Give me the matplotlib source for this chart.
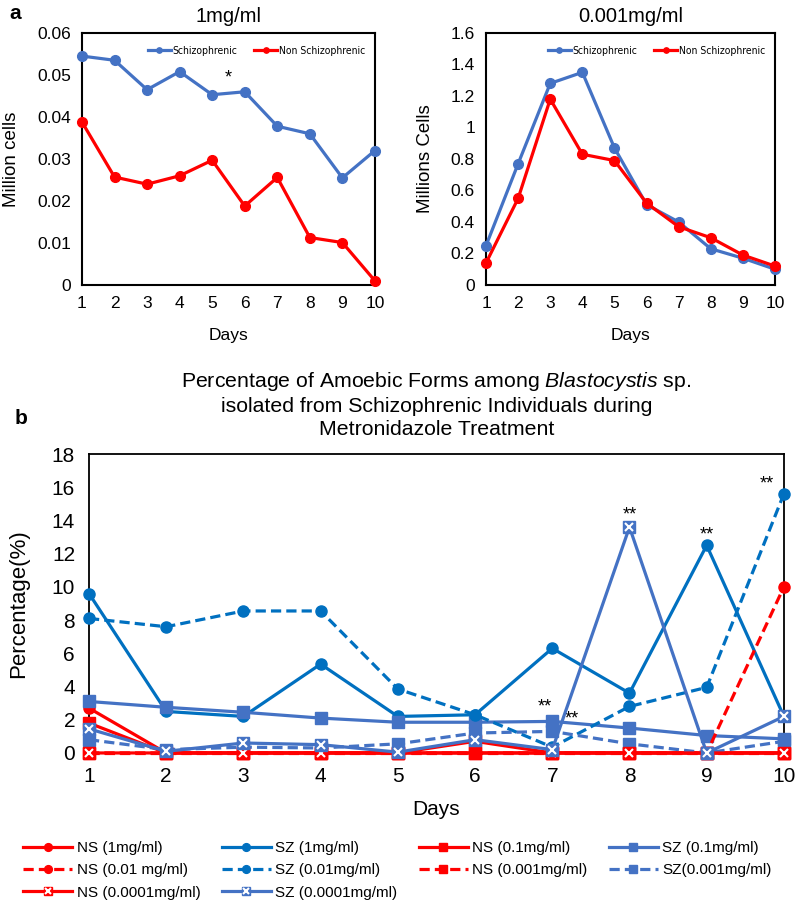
import matplotlib
matplotlib.use("Agg")
import matplotlib.pyplot as plt
from matplotlib.ticker import FuncFormatter
from matplotlib.legend_handler import HandlerTuple
from matplotlib.font_manager import FontProperties

plt.rcParams['font.family'] = ['Liberation Sans', 'DejaVu Sans']
plt.rcParams['mathtext.fontset'] = 'custom'
plt.rcParams['mathtext.rm'] = 'Liberation Sans'
plt.rcParams['mathtext.it'] = 'Liberation Sans:italic'

# ---------------- dados ----------------
dias = [1, 2, 3, 4, 5, 6, 7, 8, 9, 10]

# painel a - 1mg/ml
sz_1mg = [0.0545, 0.0535, 0.0465, 0.0508, 0.0453, 0.0460, 0.0378, 0.0360, 0.0255, 0.0320]
ns_1mg = [0.0388, 0.0257, 0.0240, 0.0260, 0.0297, 0.0188, 0.0256, 0.0113, 0.0101, 0.0010]

# painel a - 0.001mg/ml
sz_0001 = [0.25, 0.77, 1.28, 1.35, 0.87, 0.51, 0.40, 0.23, 0.17, 0.10]
ns_0001 = [0.14, 0.55, 1.18, 0.83, 0.79, 0.52, 0.37, 0.30, 0.19, 0.12]

# painel b - percentagem de formas amebóides
b_ns_1 = [2.7, 0, 0, 0, 0, 0, 0, 0, 0, 0]
b_sz_1 = [9.6, 2.5, 2.2, 5.35, 2.2, 2.3, 6.3, 3.6, 12.5, 2.2]
b_ns_01 = [1.8, 0, 0, 0, 0, 0, 0, 0, 0, 0]
b_sz_01 = [3.1, 2.75, 2.45, 2.1, 1.85, 1.85, 1.9, 1.5, 1.05, 0.85]
b_ns_001 = [0, 0, 0, 0, 0, 0, 0, 0, 0, 10.0]
b_sz_001 = [8.1, 7.6, 8.55, 8.55, 3.85, 2.3, 0.35, 2.8, 3.95, 15.6]
b_ns_0001 = [0, 0, 0, 0, 0, 0, 0, 0, 0, 0]
b_sz_0001 = [0.8, 0.2, 0.35, 0.3, 0.55, 1.2, 1.3, 0.55, 0.0, 0.7]
b_ns_00001 = [0, 0, 0, 0, 0, 0.7, 0, 0, 0, 0]
b_sz_00001 = [1.45, 0.1, 0.6, 0.5, 0.05, 0.8, 0.2, 13.6, 0.0, 2.2]

# asteriscos (dia, valor)
asteriscos_b = [(6.9, 2.75), (7.25, 2.05), (8.0, 14.3), (9.0, 13.1), (9.78, 16.2)]

AZUL = '#4472C4'
AZUL_ESC = '#0070C0'
VERMELHO = '#FF0000'

fig = plt.figure(figsize=(7.96, 9.01), dpi=100)

fmt = FuncFormatter(lambda v, p: '%g' % round(v, 4))
fonte_leg = FontProperties(family='DejaVu Sans', stretch='condensed', size=7.5)


#=(PAINEL A)
def painel_a(pos, sz, ns, titulo, ylabel, ymax, passo):
    ax = fig.add_axes(pos)
    ax.plot(dias, sz, color=AZUL, lw=2.3, marker='o', ms=7, clip_on=False, zorder=3, label='Schizophrenic')
    ax.plot(dias, ns, color=VERMELHO, lw=2.3, marker='o', ms=7, clip_on=False, zorder=3, label='Non Schizophrenic')
    ax.set_xlim(1, 10)
    ax.set_ylim(0, ymax)
    ax.set_xticks(dias)
    yt = [i * passo for i in range(int(round(ymax / passo)) + 1)]
    ax.set_yticks(yt)
    ax.yaxis.set_major_formatter(fmt)
    ax.tick_params(length=0, labelsize=12.5, pad=8)
    for s in ax.spines.values():
        s.set_linewidth(1.5)
    ax.set_title(titulo, fontsize=14.5, pad=8)
    ax.set_xlabel('Days', fontsize=12.5, labelpad=12)
    ax.set_ylabel(ylabel, fontsize=13.5, labelpad=12)
    ax.legend(loc='upper right', bbox_to_anchor=(1.0, 0.985), ncol=2, frameon=False,
              markerscale=0.55, handlelength=2.2, columnspacing=1.6, handletextpad=0.2,
              prop=fonte_leg)
    return ax


ax1 = painel_a([0.103, 0.6837, 0.368, 0.2797], sz_1mg, ns_1mg, '1mg/ml', 'Million cells', 0.06, 0.01)
ax1.text(5.5, 0.0493, '*', ha='center', va='center', fontsize=13)
ax2 = painel_a([0.6106, 0.6837, 0.363, 0.2797], sz_0001, ns_0001, '0.001mg/ml', 'Millions Cells', 1.6, 0.2)

fig.text(0.012, 0.985, 'a', fontsize=15, fontweight='bold', va='center')
fig.text(0.018, 0.535, 'b', fontsize=15, fontweight='bold', va='center')

#=(PAINEL B)
ax = fig.add_axes([0.1118, 0.1643, 0.873, 0.3318])

tr = (3.2, 1.6)
series = [
    (b_ns_1, VERMELHO, '-', 'o', 'NS (1mg/ml)'),
    (b_sz_1, AZUL_ESC, '-', 'o', 'SZ (1mg/ml)'),
    (b_ns_01, VERMELHO, '-', 's', 'NS (0.1mg/ml)'),
    (b_sz_01, AZUL, '-', 's', 'SZ (0.1mg/ml)'),
    (b_ns_001, VERMELHO, '--', 'o', 'NS (0.01 mg/ml)'),
    (b_sz_001, AZUL_ESC, '--', 'o', 'SZ (0.01mg/ml)'),
    (b_ns_0001, VERMELHO, '--', 's', 'NS (0.001mg/ml)'),
    (b_sz_0001, AZUL, '--', 's', 'SZ(0.001mg/ml)'),
    (b_ns_00001, VERMELHO, '-', 'x', 'NS (0.0001mg/ml)'),
    (b_sz_00001, AZUL, '-', 'x', 'SZ (0.0001mg/ml)'),
]

handles = []
labels = []
for i, (vals, cor, estilo, marc, rot) in enumerate(series):
    if marc == 'x':
        l1, = ax.plot(dias, vals, color=cor, lw=2.3, ls=estilo, marker='s', ms=8,
                      clip_on=False, zorder=3 + i * 0.1)
        l2, = ax.plot(dias, vals, ls='none', marker='x', ms=6, mew=1.5, color='white',
                      clip_on=False, zorder=3.05 + i * 0.1)
        handles.append((l1, l2))
    else:
        l1, = ax.plot(dias, vals, color=cor, lw=2.3, ls=estilo, marker=marc, ms=8,
                      clip_on=False, zorder=3 + i * 0.1)
        if estilo == '--':
            l1.set_dashes(tr)
        handles.append(l1)
    labels.append(rot)

for dx, dy in asteriscos_b:
    ax.text(dx, dy, '**', ha='center', va='center', fontsize=13)

ax.set_xlim(1, 10)
ax.set_ylim(0, 18)
ax.set_xticks(dias)
ax.set_yticks(range(0, 19, 2))
ax.tick_params(length=0, labelsize=15, pad=10)
for s in ax.spines.values():
    s.set_linewidth(1.3)
ax.set_xlabel('Days', fontsize=15, labelpad=10)
ax.set_ylabel('Percentage(%)', fontsize=16, labelpad=16)
ax.set_title('Percentage of Amoebic Forms among $\\it{Blastocystis}$ sp.\n'
             'isolated from Schizophrenic Individuals during\nMetronidazole Treatment',
             fontsize=15.3, pad=14, linespacing=1.25, x=0.5)

# legenda preenchida por linhas (matplotlib preenche por colunas)
ordem = [0, 4, 8, 1, 5, 9, 2, 6, 3, 7]
fig.legend([handles[k] for k in ordem], [labels[k] for k in ordem], loc='upper left',
           bbox_to_anchor=(0.012, 0.082), ncol=4,
           frameon=False, fontsize=11, handlelength=3.2, handletextpad=0.3,
           columnspacing=1.4, labelspacing=0.55, markerscale=0.7,
           handler_map={tuple: HandlerTuple(ndivide=1)})

fig.savefig('out.png', dpi=100)
